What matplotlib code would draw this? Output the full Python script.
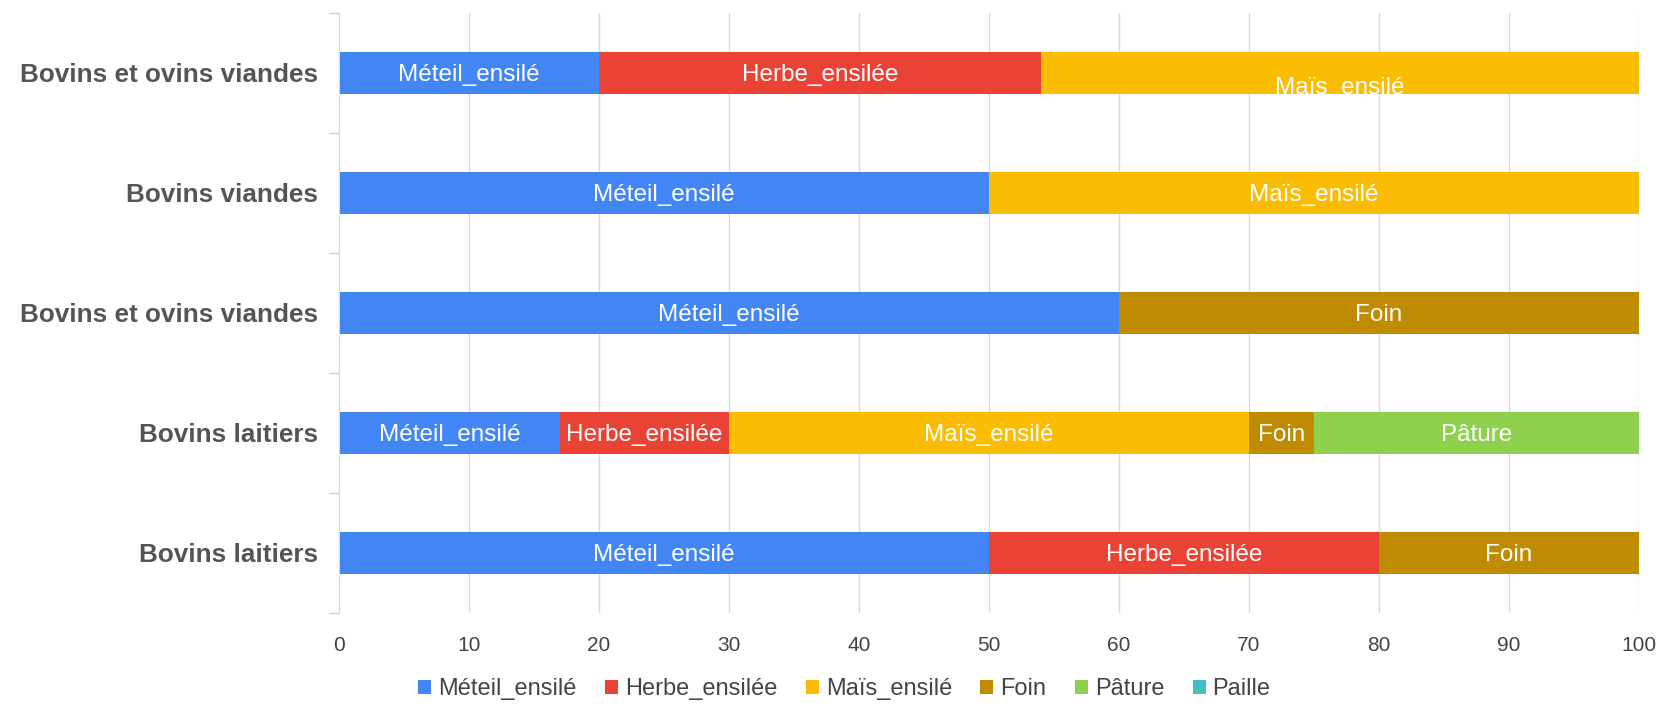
import numpy as np
import matplotlib.pyplot as plt

plt.rcParams['font.family'] = ['Liberation Sans', 'DejaVu Sans']

# exploitations, du haut vers le bas
categories = ["Bovins et ovins viandes", "Bovins viandes", "Bovins et ovins viandes",
              "Bovins laitiers", "Bovins laitiers"]

fourrages = ["Méteil_ensilé", "Herbe_ensilée", "Maïs_ensilé", "Foin", "Pâture", "Paille"]
couleurs = ["#4285F4", "#EA4335", "#FBBC04", "#BF8B00", "#8FD14F", "#46BDC6"]

# part de chaque fourrage (%) par exploitation
meteil = [20, 50, 60, 17, 50]
herbe = [34, 0, 0, 13, 30]
mais = [46, 50, 0, 40, 0]
foin = [0, 0, 40, 5, 20]
pature = [0, 0, 0, 25, 0]
paille = [0, 0, 0, 0, 0]

series = [meteil, herbe, mais, foin, pature, paille]

fig = plt.figure(figsize=(16.62, 7.06), dpi=100)
ax = fig.add_axes([0.204, 0.132, 0.782, 0.850])

y = np.arange(len(categories))
left = np.zeros(len(categories))
for nom, vals, col in zip(fourrages, series, couleurs):
    vals = np.array(vals, dtype=float)
    ax.barh(y, vals, left=left, height=0.35, color=col, label=nom, zorder=2)
    for i, v in enumerate(vals):
        if v <= 0:
            continue
        dy = 0.0
        # l'étiquette du maïs sur la première barre est décalée vers le bas
        if i == 0 and nom == "Maïs_ensilé":
            dy = 0.105
        ax.text(left[i] + v / 2, y[i] + dy, nom, ha='center', va='center_baseline',
                color='white', fontsize=17.5, zorder=3)
    left += vals

ax.set_xlim(0, 100)
ax.set_ylim(len(categories) - 0.5, -0.5)
ax.set_xticks(np.arange(0, 101, 10))
ax.tick_params(axis='x', length=0, labelsize=15, labelcolor='#444444', pad=17)

ax.set_yticks(y)
ax.set_yticklabels(categories, fontsize=18.8, fontweight='bold', color='#555555')
ax.tick_params(axis='y', which='major', length=0, pad=15)
ax.set_yticks(np.arange(-0.5, len(categories), 1), minor=True)
ax.tick_params(axis='y', which='minor', length=7, color='#cccccc', width=1)

ax.grid(axis='x', color='#d9d9d9', linewidth=1, zorder=0)
for s in ['top', 'right', 'bottom']:
    ax.spines[s].set_visible(False)
ax.spines['left'].set_color('#d9d9d9')

fig.legend(loc='lower center', ncol=6, bbox_to_anchor=(0.508, -0.022),
           frameon=False, fontsize=17, handlelength=0.55, handleheight=0.55,
           handletextpad=0.3, columnspacing=1.2, labelcolor='#444444')

fig.savefig('out.png', dpi=100)
